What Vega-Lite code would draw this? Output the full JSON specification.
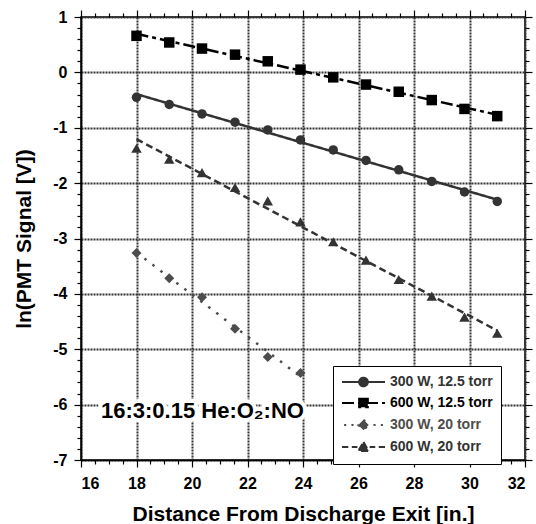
{
  "$schema": "https://vega.github.io/schema/vega-lite/v6.json",
  "width": 444,
  "height": 443,
  "autosize": {"type": "none"},
  "padding": {"left": 81, "top": 17, "right": 11, "bottom": 64},
  "background": "#ffffff",
  "config": {
    "font": "Liberation Sans",
    "view": {"stroke": "#000000", "strokeWidth": 1.5}
  },
  "datasets": {
    "points": [
      {"series": "300 W, 12.5 torr", "x": 18, "y": -0.45},
      {"series": "300 W, 12.5 torr", "x": 19.18, "y": -0.58},
      {"series": "300 W, 12.5 torr", "x": 20.36, "y": -0.75},
      {"series": "300 W, 12.5 torr", "x": 21.55, "y": -0.90},
      {"series": "300 W, 12.5 torr", "x": 22.73, "y": -1.04},
      {"series": "300 W, 12.5 torr", "x": 23.91, "y": -1.22},
      {"series": "300 W, 12.5 torr", "x": 25.09, "y": -1.40},
      {"series": "300 W, 12.5 torr", "x": 26.27, "y": -1.59},
      {"series": "300 W, 12.5 torr", "x": 27.45, "y": -1.76},
      {"series": "300 W, 12.5 torr", "x": 28.64, "y": -1.97},
      {"series": "300 W, 12.5 torr", "x": 29.82, "y": -2.16},
      {"series": "300 W, 12.5 torr", "x": 31, "y": -2.33},
      {"series": "600 W, 12.5 torr", "x": 18, "y": 0.66},
      {"series": "600 W, 12.5 torr", "x": 19.18, "y": 0.54},
      {"series": "600 W, 12.5 torr", "x": 20.36, "y": 0.43},
      {"series": "600 W, 12.5 torr", "x": 21.55, "y": 0.32},
      {"series": "600 W, 12.5 torr", "x": 22.73, "y": 0.20},
      {"series": "600 W, 12.5 torr", "x": 23.91, "y": 0.05},
      {"series": "600 W, 12.5 torr", "x": 25.09, "y": -0.09},
      {"series": "600 W, 12.5 torr", "x": 26.27, "y": -0.22},
      {"series": "600 W, 12.5 torr", "x": 27.45, "y": -0.35},
      {"series": "600 W, 12.5 torr", "x": 28.64, "y": -0.50},
      {"series": "600 W, 12.5 torr", "x": 29.82, "y": -0.66},
      {"series": "600 W, 12.5 torr", "x": 31, "y": -0.79},
      {"series": "300 W, 20 torr", "x": 18, "y": -3.26},
      {"series": "300 W, 20 torr", "x": 19.18, "y": -3.72},
      {"series": "300 W, 20 torr", "x": 20.36, "y": -4.06},
      {"series": "300 W, 20 torr", "x": 21.55, "y": -4.63},
      {"series": "300 W, 20 torr", "x": 22.73, "y": -5.14},
      {"series": "300 W, 20 torr", "x": 23.91, "y": -5.43},
      {"series": "600 W, 20 torr", "x": 18, "y": -1.37},
      {"series": "600 W, 20 torr", "x": 19.18, "y": -1.57},
      {"series": "600 W, 20 torr", "x": 20.36, "y": -1.81},
      {"series": "600 W, 20 torr", "x": 21.55, "y": -2.08},
      {"series": "600 W, 20 torr", "x": 22.73, "y": -2.32},
      {"series": "600 W, 20 torr", "x": 23.91, "y": -2.70},
      {"series": "600 W, 20 torr", "x": 25.09, "y": -3.06},
      {"series": "600 W, 20 torr", "x": 26.27, "y": -3.39},
      {"series": "600 W, 20 torr", "x": 27.45, "y": -3.74},
      {"series": "600 W, 20 torr", "x": 28.64, "y": -4.04},
      {"series": "600 W, 20 torr", "x": 29.82, "y": -4.42},
      {"series": "600 W, 20 torr", "x": 31, "y": -4.71}
    ],
    "note": [
      {"label": "16:3:0.15 He:O₂:NO", "x": 16.72, "y": -6.24}
    ]
  },
  "data": {"name": "points"},
  "layer": [
    {
      "mark": {"type": "point", "filled": true, "opacity": 0},
      "encoding": {
        "x": {"field": "x", "type": "quantitative", "scale": {"domain": [16, 32], "nice": false, "zero": false},
          "axis": {"orient": "top", "title": null, "labels": false, "grid": false, "domain": false,
            "values": [16,18,20,22,24,26,28,30,32],
            "ticks": true, "tickColor": "#000000", "tickWidth": 1.2, "tickSize": 7}},
        "y": {"field": "y", "type": "quantitative", "scale": {"domain": [-7, 1], "nice": false, "zero": false},
          "axis": {"orient": "right", "title": null, "labels": false, "grid": false, "domain": false,
            "values": [-7,-6,-5,-4,-3,-2,-1,0,1],
            "ticks": true, "tickColor": "#000000", "tickWidth": 1.2, "tickSize": 7}},
        "color": {"field": "series", "type": "nominal",
          "scale": {"domain": ["300 W, 12.5 torr", "600 W, 12.5 torr", "300 W, 20 torr", "600 W, 20 torr"], "range": ["#333333", "#000000", "#4d4d4d", "#333333"]},
          "legend": {"title": null, "orient": "none", "legendX": 252, "legendY": 349, "symbolSize": 196, "symbolStrokeWidth": 2,
            "labelFontSize": 14, "labelFont": "Liberation Sans", "labelFontWeight": "bold", "labelOffset": 33, "padding": 8,
            "strokeColor": "#000000", "fillColor": "#ffffff", "rowPadding": 3,
            "encode": {"symbols": {"update": {"opacity": {"value": 1}, "stroke": {"scale": "color", "field": "value"}}},
                       "labels": {"update": {"fill": {"scale": "color", "field": "value"}}}}}},
        "shape": {"field": "series", "type": "nominal",
          "scale": {"domain": ["300 W, 12.5 torr", "600 W, 12.5 torr", "300 W, 20 torr", "600 W, 20 torr"],
            "range": [
              "M-1,0H5.14M1.45,0A0.62,0.62,0,1,1,2.69,0A0.62,0.62,0,1,1,1.45,0Z",
              "M-1,0H5.14M1.45,-0.62H2.69V0.62H1.45Z",
              "M-0.7,0H-0.4M0.35,0H0.65M3.5,0H3.8M4.55,0H4.85M2.07,-0.75L2.82,0L2.07,0.75L1.32,0Z",
              "M-1,0H-0.1M0.4,0H1.2M2.95,0H3.75M4.25,0H5.14M2.07,-0.7L2.82,0.58L1.32,0.58Z"
            ]},
          "legend": {"title": null, "orient": "none", "legendX": 252, "legendY": 349, "symbolSize": 196, "symbolStrokeWidth": 2,
            "labelFontSize": 14, "labelFont": "Liberation Sans", "labelFontWeight": "bold", "labelOffset": 33, "padding": 8,
            "strokeColor": "#000000", "fillColor": "#ffffff", "rowPadding": 3,
            "encode": {"symbols": {"update": {"opacity": {"value": 1}, "stroke": {"scale": "color", "field": "value"}}},
                       "labels": {"update": {"fill": {"scale": "color", "field": "value"}}}}}}
      }
    },
    {
      "transform": [{"regression": "y", "on": "x", "groupby": ["series"]}],
      "mark": {"type": "line", "strokeWidth": 2.5},
      "encoding": {
        "x": {"field": "x", "type": "quantitative", "title": "Distance From Discharge Exit [in.]",
          "scale": {"domain": [16, 32], "nice": false, "zero": false},
          "axis": {"orient": "bottom",
            "values": [16,18,20,22,24,26,28,30,32],
            "labelFont": "Liberation Sans", "labelFontWeight": "bold", "labelFontSize": 16, "labelColor": "#000000",
            "titleFont": "Liberation Sans", "titleFontWeight": "bold", "titleFontSize": 21, "titleColor": "#000000",
            "domain": true, "domainColor": "#000000", "domainWidth": 1.5,
            "ticks": true, "tickColor": "#000000", "tickWidth": 1.2, "tickSize": 7,
            "grid": true, "gridColor": "#333333", "gridDash": [2, 1], "gridWidth": 2,
            "labelPadding": 8, "titlePadding": 12, "labelOverlap": false}},
        "y": {"field": "y", "type": "quantitative", "title": "ln(PMT Signal [V])",
          "scale": {"domain": [-7, 1], "nice": false, "zero": false},
          "axis": {"orient": "left",
            "values": [-7,-6,-5,-4,-3,-2,-1,0,1],
            "labelExpr": "'' + datum.value",
            "labelFont": "Liberation Sans", "labelFontWeight": "bold", "labelFontSize": 16, "labelColor": "#000000",
            "titleFont": "Liberation Sans", "titleFontWeight": "bold", "titleFontSize": 21, "titleColor": "#000000",
            "domain": true, "domainColor": "#000000", "domainWidth": 1.5,
            "ticks": true, "tickColor": "#000000", "tickWidth": 1.2, "tickSize": 7,
            "grid": true, "gridColor": "#333333", "gridDash": [2, 1], "gridWidth": 2,
            "labelPadding": 7, "titlePadding": 18, "labelOverlap": false}},
        "color": {"field": "series", "type": "nominal",
          "scale": {"domain": ["300 W, 12.5 torr", "600 W, 12.5 torr", "300 W, 20 torr", "600 W, 20 torr"], "range": ["#333333", "#000000", "#4d4d4d", "#333333"]},
          "legend": null},
        "strokeDash": {"field": "series", "type": "nominal",
          "scale": {"domain": ["300 W, 12.5 torr", "600 W, 12.5 torr", "300 W, 20 torr", "600 W, 20 torr"], "range": [[1, 0], [12, 4, 4, 4], [2.5, 7.5], [7, 4]]},
          "legend": null}
      }
    },
    {
      "transform": [{"filter": {"field": "series", "equal": "300 W, 12.5 torr"}}],
      "mark": {"type": "point", "filled": true, "shape": "circle", "size": 90, "opacity": 1},
      "encoding": {
        "x": {"field": "x", "type": "quantitative", "scale": {"domain": [16, 32], "nice": false, "zero": false},
          "axis": {"orient": "bottom", "title": null, "labels": false, "grid": false, "domain": false,
            "values": [16.5,17,17.5,18.5,19,19.5,20.5,21,21.5,22.5,23,23.5,24.5,25,25.5,26.5,27,27.5,28.5,29,29.5,30.5,31,31.5],
            "ticks": true, "tickColor": "#000000", "tickWidth": 1.2, "tickSize": 4}},
        "y": {"field": "y", "type": "quantitative", "scale": {"domain": [-7, 1], "nice": false, "zero": false},
          "axis": {"orient": "left", "title": null, "labels": false, "grid": false, "domain": false,
            "values": [-6.8,-6.6,-6.4,-6.2,-5.8,-5.6,-5.4,-5.2,-4.8,-4.6,-4.4,-4.2,-3.8,-3.6,-3.4,-3.2,-2.8,-2.6,-2.4,-2.2,-1.8,-1.6,-1.4,-1.2,-0.8,-0.6,-0.4,-0.2,0.2,0.4,0.6,0.8],
            "ticks": true, "tickColor": "#000000", "tickWidth": 1.2, "tickSize": 4}},
        "color": {"field": "series", "type": "nominal",
          "scale": {"domain": ["300 W, 12.5 torr", "600 W, 12.5 torr", "300 W, 20 torr", "600 W, 20 torr"], "range": ["#333333", "#000000", "#4d4d4d", "#333333"]},
          "legend": null}
      }
    },
    {
      "transform": [{"filter": {"field": "series", "equal": "600 W, 12.5 torr"}}],
      "mark": {"type": "point", "filled": true, "shape": "square", "size": 110, "opacity": 1},
      "encoding": {
        "x": {"field": "x", "type": "quantitative", "scale": {"domain": [16, 32], "nice": false, "zero": false},
          "axis": {"orient": "top", "title": null, "labels": false, "grid": false, "domain": false,
            "values": [16.5,17,17.5,18.5,19,19.5,20.5,21,21.5,22.5,23,23.5,24.5,25,25.5,26.5,27,27.5,28.5,29,29.5,30.5,31,31.5],
            "ticks": true, "tickColor": "#000000", "tickWidth": 1.2, "tickSize": 4}},
        "y": {"field": "y", "type": "quantitative", "scale": {"domain": [-7, 1], "nice": false, "zero": false},
          "axis": {"orient": "right", "title": null, "labels": false, "grid": false, "domain": false,
            "values": [-6.8,-6.6,-6.4,-6.2,-5.8,-5.6,-5.4,-5.2,-4.8,-4.6,-4.4,-4.2,-3.8,-3.6,-3.4,-3.2,-2.8,-2.6,-2.4,-2.2,-1.8,-1.6,-1.4,-1.2,-0.8,-0.6,-0.4,-0.2,0.2,0.4,0.6,0.8],
            "ticks": true, "tickColor": "#000000", "tickWidth": 1.2, "tickSize": 4}},
        "color": {"field": "series", "type": "nominal",
          "scale": {"domain": ["300 W, 12.5 torr", "600 W, 12.5 torr", "300 W, 20 torr", "600 W, 20 torr"], "range": ["#333333", "#000000", "#4d4d4d", "#333333"]},
          "legend": null}
      }
    },
    {
      "transform": [{"filter": {"field": "series", "equal": "300 W, 20 torr"}}],
      "mark": {"type": "point", "filled": true, "shape": "diamond", "size": 100, "opacity": 1},
      "encoding": {
        "x": {"field": "x", "type": "quantitative", "scale": {"domain": [16, 32], "nice": false, "zero": false}, "axis": null},
        "y": {"field": "y", "type": "quantitative", "scale": {"domain": [-7, 1], "nice": false, "zero": false}, "axis": null},
        "color": {"field": "series", "type": "nominal",
          "scale": {"domain": ["300 W, 12.5 torr", "600 W, 12.5 torr", "300 W, 20 torr", "600 W, 20 torr"], "range": ["#333333", "#000000", "#4d4d4d", "#333333"]},
          "legend": null}
      }
    },
    {
      "transform": [{"filter": {"field": "series", "equal": "600 W, 20 torr"}}],
      "mark": {"type": "point", "filled": true, "shape": "triangle-up", "size": 110, "opacity": 1},
      "encoding": {
        "x": {"field": "x", "type": "quantitative", "scale": {"domain": [16, 32], "nice": false, "zero": false}, "axis": null},
        "y": {"field": "y", "type": "quantitative", "scale": {"domain": [-7, 1], "nice": false, "zero": false}, "axis": null},
        "color": {"field": "series", "type": "nominal",
          "scale": {"domain": ["300 W, 12.5 torr", "600 W, 12.5 torr", "300 W, 20 torr", "600 W, 20 torr"], "range": ["#333333", "#000000", "#4d4d4d", "#333333"]},
          "legend": null}
      }
    },
    {
      "data": {"name": "note"},
      "mark": {"type": "text", "align": "left", "baseline": "alphabetic", "fontSize": 22, "fontWeight": "bold", "font": "Liberation Sans", "fill": "#ffffff", "stroke": "#ffffff", "strokeWidth": 8},
      "encoding": {
        "x": {"field": "x", "type": "quantitative", "scale": {"domain": [16, 32], "nice": false, "zero": false}, "axis": null},
        "y": {"field": "y", "type": "quantitative", "scale": {"domain": [-7, 1], "nice": false, "zero": false}, "axis": null},
        "text": {"field": "label"}
      }
    },
    {
      "data": {"name": "note"},
      "mark": {"type": "text", "align": "left", "baseline": "alphabetic", "fontSize": 22, "fontWeight": "bold", "font": "Liberation Sans", "fill": "#000000"},
      "encoding": {
        "x": {"field": "x", "type": "quantitative", "scale": {"domain": [16, 32], "nice": false, "zero": false}, "axis": null},
        "y": {"field": "y", "type": "quantitative", "scale": {"domain": [-7, 1], "nice": false, "zero": false}, "axis": null},
        "text": {"field": "label"}
      }
    }
  ],
  "resolve": {"axis": {"x": "independent", "y": "independent"}}
}
